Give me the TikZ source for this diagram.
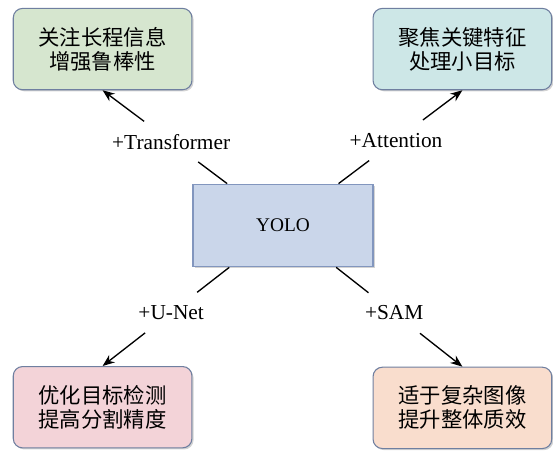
\documentclass[tikz,border=0pt]{standalone}
\usepackage{fontspec}
\setmainfont{Liberation Serif}
\newfontfamily\cjk{Noto Sans CJK SC}
\usepackage{tikz}
\usetikzlibrary{calc, arrows.meta, positioning, shadows}
\definecolor{edgegray}{HTML}{6F7FA0}
\definecolor{yoloblue}{HTML}{CAD6EA}
\definecolor{yoloedge}{HTML}{8296BE}
\definecolor{tfgreen}{HTML}{D6E6CF}
\definecolor{attcyan}{HTML}{CDE7E7}
\definecolor{unetpink}{HTML}{F3D3D8}
\definecolor{sampeach}{HTML}{F9DDCD}
\tikzset{
  goal/.style={
    rectangle, rounded corners=7pt, minimum width=134pt, minimum height=61pt,
    align=center, draw=edgegray, line width=0.8pt,
    font=\cjk\fontsize{16}{18}\selectfont,
    drop shadow={shadow xshift=1.2pt,shadow yshift=-1.2pt,opacity=0.35}
  },
  core/.style={
    rectangle, minimum width=135pt, minimum height=62pt,
    draw=yoloedge, fill=yoloblue, line width=0.8pt,
    font=\fontsize{14.5}{17}\selectfont,
    drop shadow={shadow xshift=1.2pt,shadow yshift=-1.2pt,opacity=0.35}
  },
  tag/.style={
    rectangle, minimum height=30pt, inner xsep=2pt,
    font=\fontsize{16}{19}\selectfont
  },
  link/.style={line width=1pt, black},
  arrow/.style={link, -{Stealth[length=9pt, width=7pt]}}
}

\begin{document}
\begin{tikzpicture}

\useasboundingbox (-212.25pt,-168.4pt) rectangle (202.5pt,169.1pt);

% centre
\node[core] (yolo) {YOLO};

% four outcomes
\node[goal, fill=tfgreen, above left=70pt and 0pt of yolo] (tfbox) {关注长程信息\\增强鲁棒性};
\node[goal, fill=attcyan, above right=70pt and -0.75pt of yolo] (attbox) {聚焦关键特征\\处理小目标};
\node[goal, fill=unetpink, below left=74pt and 0pt of yolo] (unetbox) {优化目标检测\\提高分割精度};
\node[goal, fill=sampeach, below right=74.5pt and -0.75pt of yolo] (sambox) {适于复杂图像\\提升整体质效};

% labels on the links
\node[tag] (tf) at ($(yolo)!0.62!(tfbox.south)$) {+Transformer};
\node[tag] (att) at ($(yolo)!0.63!(attbox.south)$) {+Attention};
\node[tag] (unet) at ($(yolo)!0.62!(unetbox.north)$) {+U-Net};
\node[tag] (sam) at ($(yolo)!0.62!(sambox.north)$) {+SAM};

% links
\draw[link] (yolo) -- (tf);
\draw[arrow] (tf) -- (tfbox.south);
\draw[link] (yolo) -- (att);
\draw[arrow] (att) -- (attbox.south);
\draw[link] (yolo) -- (unet);
\draw[arrow] (unet) -- (unetbox.north);
\draw[link] (yolo) -- (sam);
\draw[arrow] (sam) -- (sambox.north);

\end{tikzpicture}
\end{document}
